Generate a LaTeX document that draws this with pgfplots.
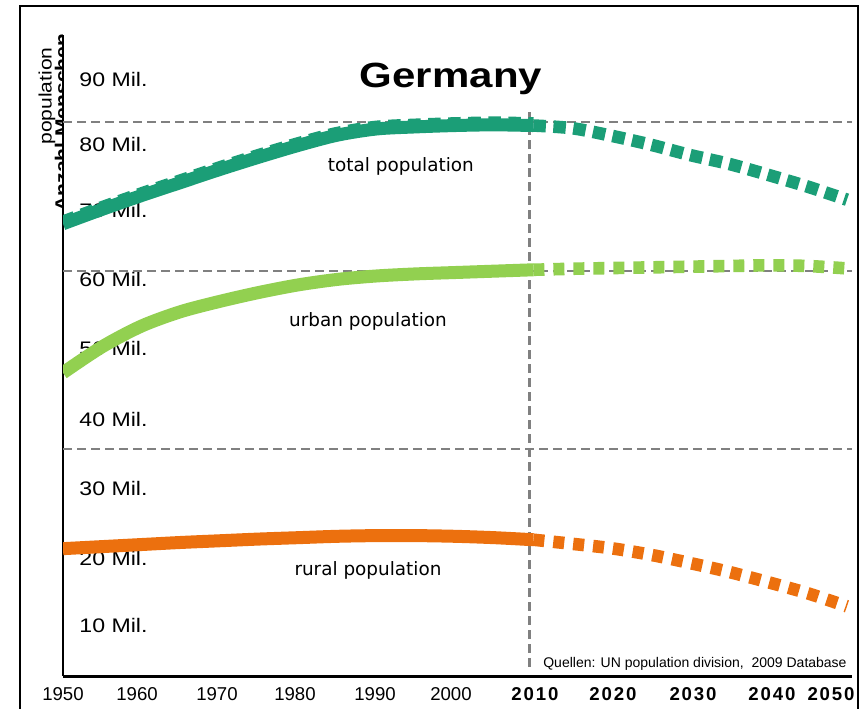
\documentclass[border=0pt]{standalone}
\usepackage{fontspec}
\usepackage{pgfplots}
\usepackage{pgfplotstable}
\pgfplotsset{compat=1.18}
\setmainfont{Liberation Sans}
\newfontfamily\tickfont[FakeStretch=1.18]{Liberation Sans}
\newfontfamily\yearfont{Liberation Sans}
\newfontfamily\yearbold[LetterSpace=10]{Liberation Sans Bold}
\newfontfamily\titlefont[FakeStretch=1.2]{Liberation Sans Bold}
\newfontfamily\notefont{DejaVu Sans}
\newfontfamily\ylabfont[FakeStretch=1.17]{Liberation Sans}
\newfontfamily\ylabbold[FakeStretch=1.17]{Liberation Sans Bold}

\definecolor{totalc}{RGB}{27,158,119}
\definecolor{urbanc}{RGB}{146,208,80}
\definecolor{ruralc}{RGB}{236,112,14}
\definecolor{gridc}{RGB}{128,128,128}

% population in millions, estimates 1950-2010
\pgfplotstableread{
year total urban rural
1950 68.5 46.8 21.2
1955 70.6 50.6 21.5
1960 72.6 53.6 21.8
1965 74.5 55.7 22.1
1970 76.4 57.2 22.35
1975 78.2 58.5 22.6
1980 79.9 59.6 22.8
1985 81.4 60.4 23.0
1990 82.3 60.9 23.1
1995 82.6 61.2 23.1
2000 82.8 61.4 23.0
2005 82.9 61.6 22.8
2010 82.8 61.8 22.5
}\histdata

% projections 2010-2050
\pgfplotstableread{
year total urban rural
2010 82.8 61.8 22.5
2015 82.4 61.95 21.9
2020 81.3 62.05 21.25
2025 80.0 62.15 20.3
2030 78.5 62.25 19.1
2035 77.2 62.35 17.8
2040 75.6 62.45 16.3
2045 73.9 62.35 14.7
2050 72.0 62.0 12.8
}\projdata

\begin{document}
\begin{tikzpicture}

% outer frame
\draw[line width=1pt] (10pt,-360pt) -- (10pt,-3pt) -- (429pt,-3pt) -- (429pt,-360pt);

% vertical axis caption
\begin{scope}
  \clip (0pt,0pt) rectangle (31pt,-354pt);
  \node[rotate=90, anchor=base, inner sep=0pt, font=\ylabbold\fontsize{9}{10}\selectfont]
    at (34pt,-61.25pt) {Anzahl Menschen};
\end{scope}
\node[rotate=90, inner sep=0pt, font=\ylabfont\fontsize{9}{10}\selectfont] at (23.5pt,-48pt) {population};

\begin{axis}[
  at={(31.5pt,-338pt)}, anchor=south west,
  scale only axis, width=394.5pt, height=320.5pt,
  set layers,
  xmin=1950, xmax=2050.64, ymin=2.66, ymax=95.98,
  axis x line=bottom, axis y line=left,
  axis line style={-},
  x axis line style={line width=1.5pt},
  y axis line style={line width=1pt},
  tick align=inside, major tick length=0pt,
  xtick={1950,1959.44,1969.64,1979.59,1989.80,1999.49,2010.20,2020.15,2030.36,2040.43,2047.96},
  xticklabels={1950,1960,1970,1980,1990,2000,{\yearbold 2010},{\yearbold 2020},{\yearbold 2030},{\yearbold 2040},{\yearbold 2050}},
  xticklabel style={anchor=north, inner sep=0pt, yshift=-5.3pt, font=\yearfont\fontsize{9.3}{11}\selectfont},
  ytick={9.95,19.70,30.03,39.95,50.28,60.32,70.36,80.04,89.43},
  yticklabels={10 Mil.,20 Mil.,30 Mil.,40 Mil.,50 Mil.,60 Mil.,70 Mil.,80 Mil.,90 Mil.},
  yticklabel style={anchor=west, inner sep=0pt, xshift=8pt, font=\tickfont\fontsize{9.8}{11}\selectfont},
]

% reference lines
\draw[gridc, line width=1.2pt, dash pattern=on 4.5pt off 2.5pt] (axis cs:1950,83.3) -- (axis cs:2050.64,83.3);
\draw[gridc, line width=1.2pt, dash pattern=on 4.5pt off 2.5pt] (axis cs:1950,61.6) -- (axis cs:2050.64,61.6);
\draw[gridc, line width=1.2pt, dash pattern=on 4.5pt off 2.5pt] (axis cs:1950,35.7) -- (axis cs:2050.64,35.7);
\draw[gridc, line width=1.2pt, dash pattern=on 4.5pt off 2.5pt] (axis cs:2009.5,4.0) -- (axis cs:2009.5,85.0);

% total population
\addplot[totalc, line width=6pt, smooth, no markers, dash pattern=on 6.25pt off 3.75pt]
  table[x=year, y expr=\thisrow{total}+0.35] {\histdata};
\addplot[totalc, line width=6.5pt, smooth, no markers] table[x=year, y=total] {\histdata};
\addplot[totalc, line width=6.3pt, smooth, no markers, dash pattern=on 6.25pt off 3.75pt]
  table[x=year, y=total] {\projdata};

% urban population
\addplot[urbanc, line width=6.5pt, smooth, no markers] table[x=year, y=urban] {\histdata};
\addplot[urbanc, line width=6.3pt, smooth, no markers, dash pattern=on 5.5pt off 4.5pt]
  table[x=year, y=urban] {\projdata};

% rural population
\addplot[ruralc, line width=6.5pt, smooth, no markers] table[x=year, y=rural] {\histdata};
\addplot[ruralc, line width=6.3pt, smooth, no markers, dash pattern=on 5.5pt off 4.5pt]
  table[x=year, y=rural] {\projdata};

\node[font=\notefont\fontsize{9.2}{11}\selectfont] at (axis cs:1993.1,76.84) {total population};
\node[font=\notefont\fontsize{9.2}{11}\selectfont] at (axis cs:1988.9,54.27) {urban population};
\node[font=\notefont\fontsize{9.2}{11}\selectfont] at (axis cs:1988.9,18.1) {rural population};
\end{axis}

\node[anchor=base, inner sep=0pt, font=\titlefont\fontsize{17.5}{20}\selectfont] at (225.5pt,-43.5pt) {Germany};
\node[anchor=base east, inner sep=0pt, font=\yearfont\fontsize{7}{8}\selectfont] at (423.5pt,-333.5pt)
  {Quellen: UN population division,\ \ 2009 Database};

\pgfresetboundingbox
\useasboundingbox (0pt,0pt) rectangle (434pt,-354pt);
\end{tikzpicture}
\end{document}
